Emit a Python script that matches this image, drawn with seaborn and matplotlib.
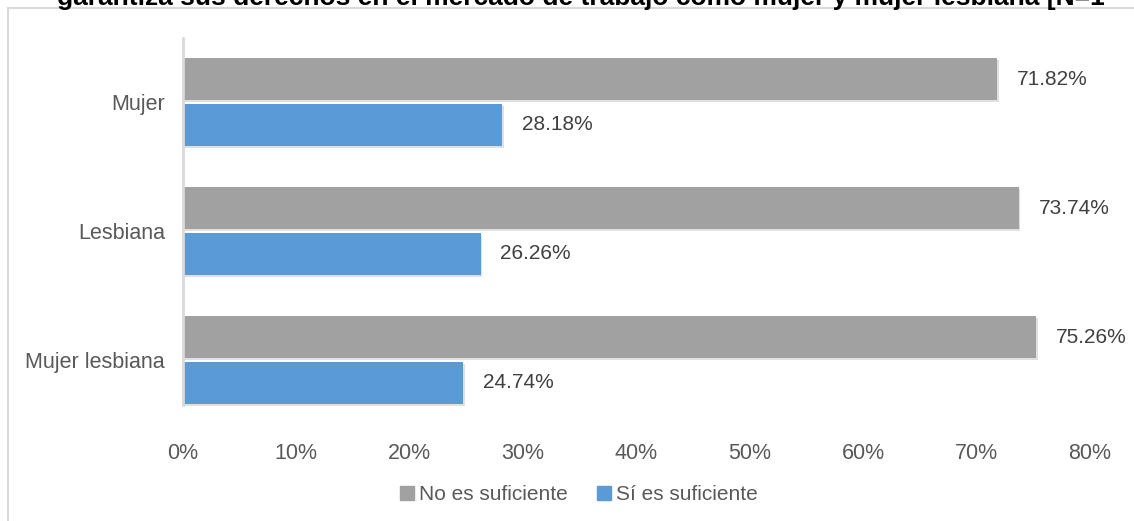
import matplotlib
matplotlib.use("Agg")
import matplotlib.pyplot as plt
import seaborn as sns
import pandas as pd
from matplotlib.lines import Line2D
from matplotlib.patches import Rectangle
import matplotlib.patheffects as pe

categories = ["Mujer", "Lesbiana", "Mujer lesbiana"]
series_names = ["No es suficiente", "Sí es suficiente"]
no_suficiente = [71.82, 73.74, 75.26]
si_suficiente = [28.18, 26.26, 24.74]
x_ticks = [0, 10, 20, 30, 40, 50, 60, 70, 80]
title = "garantiza sus derechos en el mercado de trabajo como mujer y mujer lesbiana [N=1"

df = pd.DataFrame({
    "cat": categories * 2,
    "serie": [series_names[0]] * 3 + [series_names[1]] * 3,
    "val": no_suficiente + si_suficiente,
})

sns.set_theme(style="white")
plt.rcParams["font.family"] = ["Liberation Sans", "DejaVu Sans"]

W, H = 1134, 521
fig = plt.figure(figsize=(W / 100, H / 100), dpi=100)
ax = fig.add_axes([183 / W, 1 - 424.5 / H, (1090 - 183) / W, (424.5 - 37.5) / H])

colors = {series_names[0]: "#a1a1a1", series_names[1]: "#5b9bd5"}
sns.barplot(data=df, y="cat", x="val", hue="serie", orient="h", ax=ax,
            palette=colors, width=0.713, gap=0.087, legend=False,
            saturation=1, linewidth=0)

for p in ax.patches:
    p.set_path_effects([pe.SimplePatchShadow(offset=(1, -1.5), shadow_rgbFace="#000000", alpha=0.12),
                        pe.Normal()])

for cont in ax.containers:
    ax.bar_label(cont, labels=[f"{v:.2f}%" for v in cont.datavalues], padding=14,
                 fontsize=15, color="#404040")

ax.set_xlim(0, 80)
ax.set_xticks(x_ticks)
ax.set_xticklabels([f"{t}%" for t in x_ticks], fontsize=15.5, color="#595959")
ax.tick_params(axis="x", length=0, pad=13)
ax.tick_params(axis="y", length=0, pad=13, labelsize=15.5, labelcolor="#595959")
ax.set_xlabel("")
ax.set_ylabel("")
for s in ["top", "right", "bottom"]:
    ax.spines[s].set_visible(False)
ax.spines["left"].set_color("#d9d9d9")
ax.spines["left"].set_linewidth(2)
ax.spines["left"].set_bounds(-0.5 + 0.005, 2.35)

# legend
handles = [Rectangle((0, 0), 1, 1, color=colors[s]) for s in series_names]
fig.legend(handles, series_names, loc="center", bbox_to_anchor=(579 / W, 1 - 495 / H),
           ncol=2, frameon=False, fontsize=15, handlelength=0.65, handleheight=0.65,
           handletextpad=0.25, columnspacing=1.4, labelcolor="#595959")

# chart border
fig.add_artist(Line2D([8 / W, 8 / W], [0, 1 - 7.5 / H], color="#d9d9d9", lw=1.5))
fig.add_artist(Line2D([8 / W, 1], [1 - 7.5 / H, 1 - 7.5 / H], color="#d9d9d9", lw=1.5))

fig.text(57 / W, 1 - 4.5 / H, title, fontsize=19, fontweight="bold", color="#000000",
         ha="left", va="baseline")

fig.savefig("out.png", dpi=100)
